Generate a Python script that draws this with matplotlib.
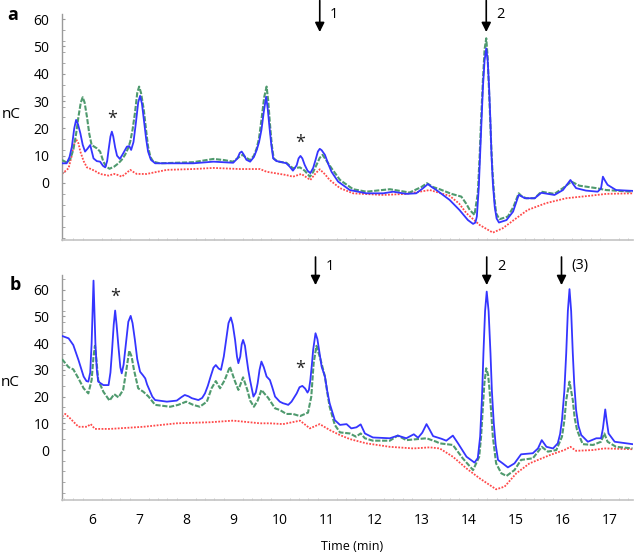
import numpy as np
import matplotlib
matplotlib.use('Agg')
import matplotlib.pyplot as plt
from matplotlib.ticker import MultipleLocator

plt.rcParams['font.family'] = ['Open Sans', 'DejaVu Sans']

# (time [min], signal [nC])
# ---- panel a ----
a_blue = [(5.36, 7.2), (5.46, 7.2), (5.52, 9.5), (5.57, 13.3), (5.62, 20.0), (5.66, 23.1), (5.70, 21.5),
          (5.75, 18.2), (5.80, 14.0), (5.85, 11.5), (5.90, 12.5), (5.96, 13.9), (6.00, 11.0), (6.03, 9.0),
          (6.10, 8.0), (6.17, 7.8), (6.23, 6.3), (6.28, 5.7), (6.32, 8.0), (6.35, 12.1), (6.39, 17.0),
          (6.42, 18.8), (6.45, 17.0), (6.49, 13.0), (6.53, 10.0), (6.59, 8.8), (6.65, 10.5), (6.74, 13.3),
          (6.79, 13.5), (6.83, 12.1), (6.88, 15.0), (6.93, 21.9), (6.98, 29.5), (7.02, 31.9), (7.06, 29.0),
          (7.10, 23.1), (7.15, 16.0), (7.19, 11.5), (7.25, 8.5), (7.34, 7.2), (8.15, 7.2), (8.58, 7.8),
          (9.00, 7.4), (9.09, 9.0), (9.14, 11.0), (9.18, 11.5), (9.22, 10.5), (9.28, 8.5), (9.36, 7.8),
          (9.44, 9.5), (9.50, 12.1), (9.55, 15.0), (9.60, 19.4), (9.65, 26.0), (9.70, 31.6), (9.735, 27.0),
          (9.77, 20.6), (9.81, 14.0), (9.85, 9.0), (9.92, 8.0), (9.99, 7.8), (10.13, 7.2), (10.20, 6.0),
          (10.27, 4.5), (10.35, 6.5), (10.39, 9.0), (10.43, 9.9), (10.47, 9.0), (10.52, 6.6), (10.58, 4.5),
          (10.64, 3.6), (10.70, 5.5), (10.75, 8.4), (10.80, 11.5), (10.84, 12.5), (10.88, 12.0), (10.95, 10.3),
          (11.02, 7.0), (11.09, 4.1), (11.23, 0.5), (11.48, -2.6), (11.83, -3.8), (12.19, -3.8), (12.40, -3.2),
          (12.68, -4.0), (12.89, -3.8), (13.03, -2.0), (13.14, -0.4), (13.22, -1.5), (13.32, -2.6),
          (13.60, -6.2), (13.81, -9.9), (13.99, -13.6), (14.10, -15.0), (14.15, -14.5), (14.18, -12.3),
          (14.22, -2.0), (14.25, 10.9), (14.28, 23.0), (14.31, 35.3), (14.345, 45.0), (14.38, 49.3),
          (14.41, 45.0), (14.44, 35.3), (14.47, 22.0), (14.49, 10.9), (14.52, 0.0), (14.56, -8.7),
          (14.60, -13.0), (14.65, -14.5), (14.81, -13.6), (14.95, -10.5), (15.02, -7.0), (15.07, -4.4),
          (15.12, -4.8), (15.20, -5.6), (15.41, -5.6), (15.55, -3.6), (15.83, -4.4), (16.01, -2.6),
          (16.10, -0.5), (16.17, 1.1), (16.23, -0.5), (16.29, -1.9), (16.50, -2.8), (16.75, -3.2),
          (16.82, -2.0), (16.86, 2.3), (16.90, 1.0), (16.96, -0.7), (17.14, -2.6), (17.49, -2.9)]

a_green = [(5.36, 8.4), (5.47, 7.4), (5.54, 9.0), (5.60, 12.1), (5.66, 18.0), (5.71, 24.3), (5.76, 29.5),
           (5.80, 31.4), (5.84, 29.5), (5.89, 24.3), (5.94, 18.0), (5.99, 13.9), (6.10, 12.7), (6.17, 11.5),
           (6.24, 7.8), (6.30, 6.0), (6.37, 5.2), (6.47, 6.0), (6.56, 7.2), (6.63, 8.5), (6.70, 10.3),
           (6.76, 12.5), (6.81, 15.1), (6.86, 19.5), (6.91, 25.5), (6.96, 33.0), (7.00, 35.3), (7.04, 33.0),
           (7.10, 26.7), (7.15, 19.0), (7.19, 13.3), (7.24, 9.5), (7.30, 7.8), (7.44, 7.2), (8.15, 7.6),
           (8.40, 8.3), (8.58, 8.8), (8.80, 8.4), (9.00, 7.8), (9.10, 9.2), (9.20, 10.3), (9.28, 9.2),
           (9.36, 8.4), (9.44, 10.0), (9.50, 12.7), (9.55, 16.5), (9.60, 23.1), (9.66, 31.5), (9.71, 35.3),
           (9.745, 30.0), (9.78, 21.9), (9.82, 14.0), (9.86, 9.0), (9.95, 7.8), (10.13, 7.4), (10.27, 5.4),
           (10.42, 5.7), (10.52, 4.5), (10.63, 2.3), (10.70, 4.0), (10.77, 6.6), (10.84, 9.2), (10.90, 10.3),
           (10.97, 8.5), (11.09, 5.4), (11.27, 1.1), (11.55, -2.3), (11.83, -3.2), (12.33, -2.3),
           (12.75, -3.5), (13.00, -1.5), (13.12, -0.1), (13.25, -1.5), (13.39, -2.3), (13.64, -4.0),
           (13.85, -5.0), (13.95, -7.5), (14.03, -9.9), (14.13, -11.7), (14.20, -3.8), (14.24, 10.0),
           (14.27, 23.1), (14.31, 38.0), (14.345, 49.0), (14.38, 53.0), (14.41, 46.0), (14.45, 29.2),
           (14.48, 16.0), (14.51, 4.8), (14.55, -5.0), (14.59, -11.1), (14.66, -13.3), (14.84, -12.3),
           (14.96, -8.7), (15.02, -6.0), (15.07, -3.8), (15.13, -4.8), (15.23, -5.6), (15.41, -5.6),
           (15.55, -3.2), (15.83, -4.0), (16.01, -1.9), (16.19, 0.5), (16.36, -1.0), (16.72, -1.9),
           (16.93, -2.6), (17.49, -3.2)]

a_red = [(5.36, 3.3), (5.50, 5.4), (5.56, 9.5), (5.60, 13.3), (5.66, 16.0), (5.71, 14.5), (5.75, 11.5),
         (5.82, 8.0), (5.89, 5.7), (5.99, 5.0), (6.08, 4.2), (6.17, 3.3), (6.35, 2.7), (6.47, 3.3),
         (6.55, 2.9), (6.63, 2.3), (6.72, 3.5), (6.81, 4.8), (6.88, 4.0), (6.95, 3.3), (7.16, 3.3),
         (7.59, 4.8), (8.15, 5.1), (8.58, 5.5), (9.14, 5.1), (9.57, 5.1), (9.71, 4.1), (10.13, 2.9),
         (10.27, 2.3), (10.45, 3.3), (10.64, 1.1), (10.75, 3.5), (10.84, 5.0), (10.95, 3.2), (11.05, 1.1),
         (11.27, -1.9), (11.55, -3.8), (12.19, -4.4), (12.68, -4.0), (13.18, -2.6), (13.60, -4.7),
         (13.80, -7.5), (13.96, -11.1), (14.24, -15.4), (14.52, -18.2), (14.73, -16.6), (15.02, -12.9),
         (15.26, -9.9), (15.65, -7.4), (16.08, -5.6), (16.58, -4.7), (16.93, -4.0), (17.49, -3.8)]

# ---- panel b ----
b_blue = [(5.36, 42.7), (5.50, 41.8), (5.60, 39.3), (5.71, 33.7), (5.82, 27.5), (5.88, 25.8), (5.92, 25.6),
          (5.96, 29.0), (5.99, 40.0), (6.01, 52.0), (6.03, 63.4), (6.05, 52.0), (6.07, 40.0), (6.10, 30.0),
          (6.13, 25.6), (6.24, 24.3), (6.35, 24.3), (6.39, 29.0), (6.42, 36.2), (6.46, 47.0), (6.49, 52.2),
          (6.52, 47.0), (6.56, 38.7), (6.60, 31.0), (6.63, 28.7), (6.67, 32.0), (6.72, 40.0), (6.77, 48.0),
          (6.82, 50.2), (6.86, 47.5), (6.91, 41.2), (6.96, 34.0), (7.02, 29.3), (7.08, 28.0), (7.13, 26.8),
          (7.17, 24.5), (7.22, 22.5), (7.28, 20.0), (7.34, 18.7), (7.59, 18.1), (7.80, 18.5), (7.90, 19.8),
          (7.97, 20.6), (8.05, 20.1), (8.12, 19.4), (8.26, 18.7), (8.34, 19.5), (8.40, 21.2), (8.46, 24.0),
          (8.52, 27.5), (8.58, 30.8), (8.63, 31.8), (8.69, 30.5), (8.74, 30.0), (8.80, 35.0), (8.85, 41.2),
          (8.90, 47.5), (8.95, 49.6), (8.99, 47.0), (9.04, 41.2), (9.08, 35.0), (9.11, 32.5), (9.15, 35.0),
          (9.18, 39.5), (9.21, 41.2), (9.25, 39.0), (9.28, 35.0), (9.32, 30.0), (9.36, 26.0), (9.43, 20.0),
          (9.48, 21.5), (9.52, 25.0), (9.56, 30.0), (9.60, 33.1), (9.65, 31.0), (9.71, 27.5), (9.78, 26.2),
          (9.83, 23.5), (9.89, 20.0), (9.99, 18.1), (10.06, 17.5), (10.12, 17.2), (10.17, 16.9),
          (10.24, 18.1), (10.35, 21.2), (10.41, 23.5), (10.47, 24.0), (10.53, 23.0), (10.58, 21.5),
          (10.61, 22.5), (10.64, 26.2), (10.67, 31.5), (10.70, 37.5), (10.75, 43.7), (10.79, 41.5),
          (10.82, 38.1), (10.88, 31.2), (10.95, 27.5), (11.00, 22.0), (11.05, 17.5), (11.16, 11.2),
          (11.27, 9.4), (11.41, 9.7), (11.51, 8.1), (11.62, 8.5), (11.71, 9.6), (11.80, 6.2), (11.97, 4.7),
          (12.33, 4.4), (12.50, 5.4), (12.68, 4.4), (12.84, 5.9), (12.93, 4.6), (13.02, 6.5), (13.11, 9.7),
          (13.18, 7.5), (13.25, 5.2), (13.43, 4.2), (13.53, 3.5), (13.67, 5.4), (13.78, 2.5), (13.96, -2.5),
          (14.13, -4.7), (14.20, -3.0), (14.25, 5.0), (14.29, 20.0), (14.32, 36.2), (14.355, 52.0),
          (14.39, 59.3), (14.43, 52.0), (14.47, 36.2), (14.50, 22.0), (14.54, 10.0), (14.58, 2.0),
          (14.63, -3.7), (14.73, -5.0), (14.84, -6.5), (14.98, -5.0), (15.12, -1.6), (15.37, -1.2),
          (15.48, 0.6), (15.56, 3.7), (15.66, 1.2), (15.80, 0.6), (15.90, 2.5), (15.95, 6.0), (15.99, 11.2),
          (16.04, 22.0), (16.08, 36.2), (16.115, 52.0), (16.15, 60.2), (16.185, 52.0), (16.22, 36.2),
          (16.25, 25.0), (16.29, 15.0), (16.34, 9.0), (16.40, 5.6), (16.54, 3.1), (16.72, 4.4), (16.82, 4.4),
          (16.86, 8.0), (16.91, 15.2), (16.94, 11.0), (16.98, 6.2), (17.11, 3.1), (17.49, 2.2)]

b_green = [(5.36, 34.0), (5.50, 31.0), (5.60, 30.2), (5.71, 26.8), (5.82, 23.1), (5.92, 21.2), (5.99, 26.2),
           (6.03, 35.0), (6.06, 39.0), (6.09, 34.0), (6.13, 26.2), (6.24, 21.8), (6.37, 18.5), (6.47, 20.9),
           (6.56, 19.7), (6.66, 22.5), (6.72, 29.0), (6.79, 37.2), (6.84, 35.0), (6.89, 30.0), (6.98, 23.1),
           (7.09, 21.8), (7.20, 20.0), (7.34, 16.9), (7.66, 16.2), (7.83, 16.9), (8.00, 18.1), (8.15, 16.9),
           (8.29, 16.2), (8.44, 18.1), (8.54, 23.1), (8.63, 25.8), (8.72, 23.1), (8.82, 26.2), (8.93, 31.2),
           (9.04, 25.6), (9.11, 22.5), (9.21, 27.2), (9.30, 22.5), (9.36, 18.5), (9.44, 16.2), (9.52, 18.5),
           (9.60, 22.5), (9.67, 21.0), (9.74, 19.6), (9.89, 15.6), (9.99, 15.0), (10.13, 13.5), (10.27, 13.5),
           (10.42, 12.7), (10.59, 14.0), (10.66, 20.0), (10.71, 32.5), (10.77, 39.0), (10.85, 34.3),
           (10.95, 27.5), (11.00, 21.5), (11.05, 16.2), (11.16, 9.4), (11.27, 6.6), (11.48, 6.2), (11.61, 5.0),
           (11.71, 6.2), (11.80, 4.4), (11.97, 3.5), (12.33, 3.5), (12.50, 5.4), (12.68, 3.7), (13.11, 4.4),
           (13.32, 3.1), (13.39, 2.5), (13.67, 1.9), (13.88, -3.1), (14.10, -7.5), (14.23, -2.5), (14.27, 5.0),
           (14.30, 13.7), (14.34, 25.0), (14.38, 30.6), (14.42, 28.0), (14.45, 22.5), (14.49, 13.0),
           (14.52, 5.0), (14.59, -5.0), (14.70, -8.7), (14.81, -9.7), (14.98, -7.5), (15.12, -3.7),
           (15.37, -3.1), (15.56, 1.2), (15.69, -0.6), (15.87, 0.0), (15.99, 5.0), (16.04, 11.0),
           (16.08, 18.7), (16.15, 25.6), (16.22, 18.7), (16.26, 12.0), (16.31, 7.5), (16.43, 2.2),
           (16.65, 1.9), (16.82, 3.1), (16.89, 6.2), (16.96, 3.1), (17.14, 1.2), (17.49, 0.6)]

b_red = [(5.36, 12.5), (5.43, 13.5), (5.53, 11.9), (5.71, 8.7), (5.89, 8.7), (5.97, 9.7), (6.06, 7.9),
         (6.38, 7.9), (7.09, 8.7), (7.80, 10.0), (8.51, 10.4), (9.00, 11.0), (9.57, 10.0), (9.78, 10.0),
         (10.06, 9.7), (10.42, 11.0), (10.63, 8.1), (10.84, 9.7), (11.05, 7.5), (11.27, 5.6), (11.48, 4.1),
         (11.83, 2.5), (12.33, 1.2), (12.83, 0.6), (13.18, 1.0), (13.39, 0.6), (13.67, -2.5), (13.96, -6.9),
         (14.24, -10.6), (14.59, -14.7), (14.77, -13.7), (15.02, -8.7), (15.30, -5.0), (15.73, -1.9),
         (16.04, 0.0), (16.17, 1.2), (16.29, -0.3), (16.65, 0.0), (16.89, 0.6), (17.49, 0.3)]

x_ticks = [6, 7, 8, 9, 10, 11, 12, 13, 14, 15, 16, 17]
y_ticks = [0, 10, 20, 30, 40, 50, 60]

# arrows: (time, label)
a_arrows = [(10.84, '1'), (14.38, '2')]
b_arrows = [(10.75, '1'), (14.39, '2'), (15.98, '(3)')]
# asterisks: (time, value)
a_stars = [(6.42, 23.5), (10.42, 14.7)]
b_stars = [(6.49, 57.5), (10.42, 30.2)]

W, H = 635, 556
fig = plt.figure(figsize=(W / 100, H / 100), dpi=100)
ax_a = fig.add_axes([62 / W, 1 - 240 / H, 571 / W, 226 / H])
ax_b = fig.add_axes([62 / W, 1 - 500 / H, 571 / W, 225 / H])

blue = '#3535ff'
green = '#4f9a6e'
red = '#ff4a4a'


def draw(ax, bl, gr, rd, ylim):
    rt, rv = zip(*rd)
    gt, gv = zip(*gr)
    bt, bv = zip(*bl)
    ax.plot(rt, rv, color=red, lw=1.3, ls=(0, (1, 0.8)), zorder=2)
    ax.plot(gt, gv, color=green, lw=1.5, ls=(0, (2.5, 0.8)), dash_joinstyle='round', zorder=3)
    ax.plot(bt, bv, color=blue, lw=1.3, solid_joinstyle='round', zorder=4)
    ax.set_xlim(5.36, 17.5)
    ax.set_ylim(*ylim)
    for s in ['top', 'right']:
        ax.spines[s].set_visible(False)
    ax.spines['left'].set_color('#9a9a9a')
    ax.spines['bottom'].set_color('#c4c4c4')
    ax.spines['left'].set_linewidth(1.0)
    ax.spines['bottom'].set_linewidth(1.2)
    ax.set_yticks(y_ticks)
    ax.yaxis.set_minor_locator(MultipleLocator(4))
    ax.xaxis.set_minor_locator(MultipleLocator(0.2))
    ax.tick_params(axis='y', which='major', length=2, direction='in', color='#9a9a9a',
                   labelsize=10, pad=9)
    ax.tick_params(axis='y', which='minor', length=2, direction='in', color='#9a9a9a')
    ax.tick_params(axis='x', which='minor', length=1.5, direction='in', color='#c4c4c4')
    ax.patch.set_alpha(0)


draw(ax_a, a_blue, a_green, a_red, (-20.9, 61.9))
draw(ax_b, b_blue, b_green, b_red, (-18.7, 65.5))

ax_a.set_xticks(x_ticks)
ax_a.tick_params(axis='x', which='major', length=0, labelbottom=False)
ax_b.set_xticks(x_ticks)
ax_b.tick_params(axis='x', which='major', length=0, labelsize=10, pad=9)

for ax, arrows, tail, tip, ty in [(ax_a, a_arrows, 1.06, 0.92, 1.0), (ax_b, b_arrows, 1.08, 0.955, 1.04)]:
    for t, lab in arrows:
        ax.annotate('', xy=(t, tip), xytext=(t, tail), xycoords=('data', 'axes fraction'),
                    textcoords=('data', 'axes fraction'),
                    arrowprops=dict(arrowstyle='-|>', color='black', lw=1.2, mutation_scale=14,
                                    shrinkA=0, shrinkB=0), annotation_clip=False)
        ax.text(t + 0.22, ty, lab, transform=ax.get_xaxis_transform(), fontsize=10.5,
                ha='left', va='center', clip_on=False)

for ax, stars in [(ax_a, a_stars), (ax_b, b_stars)]:
    for t, v in stars:
        ax.text(t, v, '*', fontsize=13, ha='center', va='center', color='#222222')

fig.text(11 / W, 1 - 115 / H, 'nC', fontsize=11, ha='center', va='center')
fig.text(10 / W, 1 - 382 / H, 'nC', fontsize=11, ha='center', va='center')
fig.text(13 / W, 1 - 15 / H, 'a', fontsize=13, fontweight='bold', ha='center', va='center')
fig.text(15 / W, 1 - 285 / H, 'b', fontsize=13, fontweight='bold', ha='center', va='center')
fig.text(352 / W, 1 - 546 / H, 'Time (min)', fontsize=9, ha='center', va='center')

fig.savefig('out.png', dpi=100)
